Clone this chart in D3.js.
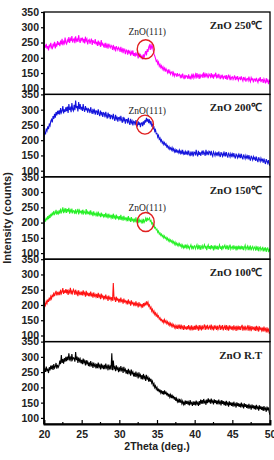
<!DOCTYPE html>
<html>
<head>
<meta charset="utf-8">
<script src="https://cdn.jsdelivr.net/npm/d3@7"></script>
<style>
body { margin: 0; background: #fff; }
svg { display: block; }
</style>
</head>
<body>
<svg></svg>
<script>
// 2theta grid, one reading every 0.1 deg (rows below = one degree each)
var theta = d3.range(20, 50.0001, 0.1);

var zno250 = [
  228,241,233,246,230,238,224,243,236,249,
  235,228,246,239,252,231,244,237,255,242,
  250,238,256,244,262,241,253,247,266,249,
  245,258,251,268,249,262,255,271,250,259,
  263,248,270,255,261,252,274,258,249,265,
  258,266,250,262,247,269,255,261,244,257,
  260,246,255,263,242,258,250,248,261,244,
  252,239,256,244,249,236,258,242,247,238,
  244,232,249,236,242,230,246,238,233,241,
  237,226,242,229,236,221,238,231,225,234,
  230,219,236,222,228,215,231,224,212,226,
  223,210,226,216,221,207,219,213,224,206,
  215,204,218,209,212,198,216,205,210,200,
  206,195,211,200,214,222,208,228,219,235,
  241,226,246,232,238,224,212,206,198,188,
  192,180,186,172,178,168,174,163,170,160,
  166,155,164,158,151,162,149,157,146,152,
  154,143,151,140,148,146,138,150,141,144,
  146,136,142,133,148,138,130,144,135,141,
  140,131,146,134,138,129,143,136,148,133,
  139,146,132,150,138,143,131,147,136,141,
  145,134,152,139,146,136,149,141,133,147,
  143,137,150,135,146,132,144,140,151,136,
  142,133,147,138,130,144,136,141,129,139,
  140,131,143,128,137,145,132,139,127,136,
  138,129,135,142,127,136,131,140,126,133,
  136,127,139,130,124,137,129,134,122,131,
  132,125,138,127,121,135,128,131,119,130,
  130,122,134,126,119,132,124,137,120,128,
  129,118,131,124,116,133,122,127,114,126,
  121];

var zno200 = [
  212,226,219,238,231,245,236,252,247,262,
  268,258,279,270,286,274,292,281,296,285,
  298,284,305,290,296,312,288,301,293,308,
  295,310,289,318,299,306,292,322,301,296,
  316,298,330,305,312,294,325,302,318,300,
  309,296,318,301,293,312,298,306,290,303,
  300,289,308,294,286,303,291,298,284,296,
  295,283,301,287,279,297,285,292,276,290,
  288,275,293,280,271,290,278,285,269,282,
  280,268,286,272,263,283,270,277,261,274,
  275,262,280,266,257,276,264,270,254,268,
  268,255,273,259,250,270,257,263,248,262,
  260,249,266,252,245,262,250,258,243,255,
  257,246,262,251,266,258,273,261,270,256,
  268,255,262,247,251,238,242,229,234,221,
  222,210,216,203,207,196,201,190,195,186,
  192,184,188,178,182,173,179,170,175,168,
  176,166,172,162,169,159,170,161,165,158,
  167,157,164,154,168,155,161,152,163,156,
  162,151,166,155,148,163,153,159,147,161,
  160,150,168,154,147,165,152,161,149,158,
  166,152,163,157,149,168,155,160,151,164,
  161,150,165,153,147,162,156,149,159,152,
  160,148,163,152,145,161,154,147,158,150,
  158,147,161,150,143,159,152,145,156,148,
  155,144,158,147,140,156,149,142,153,145,
  152,141,155,144,137,153,146,139,150,142,
  148,137,151,140,133,149,142,135,146,138,
  143,132,146,135,128,144,137,130,141,133,
  137,126,140,129,122,138,131,124,135,121,
  116];

var zno150 = [
  198,212,203,216,208,221,211,225,215,229,
  220,233,224,238,227,231,242,226,235,229,
  240,229,246,233,238,250,231,243,236,247,
  232,244,236,248,229,241,235,246,230,239,
  238,228,243,231,236,245,227,240,233,237,
  231,242,226,238,233,229,244,227,236,230,
  235,224,240,228,232,221,237,226,230,223,
  231,220,236,224,228,218,233,222,226,219,
  228,217,232,220,225,214,229,219,223,215,
  225,213,229,216,221,210,226,215,219,212,
  221,209,225,212,217,206,222,211,215,208,
  217,205,221,208,213,202,218,207,211,204,
  213,201,217,204,209,198,214,203,207,200,
  208,197,212,201,206,214,203,216,208,211,
  215,204,207,196,199,188,192,182,184,176,
  178,168,172,162,166,158,162,154,158,150,
  156,148,152,144,149,140,146,138,143,136,
  141,133,138,129,136,127,133,125,131,124,
  131,123,128,119,126,117,124,116,128,118,
  126,117,123,114,121,127,116,124,112,122,
  124,114,121,127,112,123,116,126,111,120,
  125,113,122,128,115,124,110,121,127,114,
  123,112,126,117,121,109,125,115,122,113,
  124,111,120,127,114,122,110,125,116,121,
  126,113,122,115,125,111,120,128,113,119,
  122,111,125,116,120,109,124,114,121,112,
  124,112,121,115,123,110,119,126,112,118,
  123,110,120,114,125,109,118,122,111,117,
  121,108,119,112,122,106,117,120,109,114,
  118,106,116,110,119,104,114,117,103,112,
  106];

var zno100 = [
  195,206,199,212,205,218,210,224,214,228,
  221,234,226,241,229,237,246,231,240,235,
  244,232,250,237,243,255,236,248,240,252,
  238,250,233,247,241,256,235,245,238,251,
  246,233,250,237,243,229,248,236,241,232,
  244,231,248,235,240,227,246,233,238,229,
  240,228,244,231,236,224,241,229,234,226,
  236,223,240,227,232,219,237,225,230,221,
  230,218,234,222,226,213,231,220,224,216,
  226,214,272,219,223,210,227,216,220,212,
  220,208,224,212,216,204,221,210,214,206,
  214,202,218,206,210,198,215,204,208,200,
  208,196,212,200,204,192,209,198,202,194,
  203,191,206,195,208,199,212,202,209,196,
  200,188,193,180,186,174,180,169,174,162,
  170,160,164,154,158,150,153,145,150,142,
  152,143,148,139,145,136,142,133,140,131,
  138,129,135,126,133,124,131,122,136,125,
  132,121,136,124,129,118,134,123,127,119,
  131,120,134,122,128,117,133,121,127,118,
  132,119,135,123,128,116,134,122,129,117,
  133,120,128,136,118,130,124,135,119,127,
  131,119,136,122,128,117,133,124,130,118,
  132,120,127,135,118,129,123,134,117,126,
  131,118,134,121,128,116,133,123,129,119,
  130,117,133,122,127,115,132,121,128,118,
  131,118,128,135,116,127,121,132,117,125,
  130,116,133,120,127,114,131,122,126,117,
  129,115,132,119,126,113,130,120,124,116,
  126,113,129,117,122,110,127,114,120,108,
  110];

var znoRT = [
  246,262,251,268,255,259,247,266,256,271,
  260,272,257,276,263,268,280,261,274,266,
  272,288,276,306,280,293,278,296,284,300,
  286,301,289,312,292,298,285,309,291,297,
  296,284,316,289,301,280,298,286,293,279,
  290,276,294,281,287,272,289,278,284,270,
  282,268,286,272,278,264,281,270,275,262,
  277,263,281,267,273,259,278,265,271,260,
  274,260,278,264,270,256,275,262,268,258,
  312,256,288,262,267,253,272,259,264,250,
  266,252,270,256,262,247,267,254,259,245,
  257,243,261,247,253,238,258,245,250,236,
  248,234,252,238,244,229,249,236,241,227,
  240,226,244,230,236,221,241,228,233,219,
  232,219,228,214,220,206,212,199,205,194,
  200,188,196,184,193,182,190,178,188,176,
  190,178,186,174,182,170,179,168,176,165,
  176,164,172,160,168,156,164,153,160,150,
  162,150,158,147,155,144,152,142,157,146,
  156,144,152,141,158,146,150,139,154,143,
  153,141,157,145,150,139,155,143,160,147,
  158,146,162,150,155,143,160,148,164,151,
  160,147,163,151,156,144,161,149,158,145,
  157,144,160,148,153,141,158,146,155,142,
  153,140,156,144,149,137,154,142,151,139,
  150,137,153,141,146,134,151,139,148,136,
  147,134,150,138,143,131,148,136,145,133,
  143,130,146,134,139,127,144,132,141,129,
  140,127,143,131,136,124,141,129,138,126,
  136,123,139,127,132,120,137,125,134,118,
  110];

var seriesNames = ["ZnO 250\u2103", "ZnO 200\u2103", "ZnO 150\u2103", "ZnO 100\u2103", "ZnO R.T"];
var seriesData = [zno250, zno200, zno150, zno100, znoRT];
var seriesColors = ["#ff00ff", "#1414dc", "#28f028", "#ff1414", "#000000"];

// ZnO(111) peak marks (only on the three hottest samples)
var peakName = "ZnO(111)";
var peakTheta = [33.5, 33.4, 33.5];
var peakValue = [228, 251, 202];
var peakTextValue = [274, 287, 238];

var yTicks = [100, 150, 200, 250, 300, 350];
var xTicks = [20, 25, 30, 35, 40, 45, 50];

var W = 274, H = 460;
var padL = 44, padR = 270, padT = 12, padB = 424;
var nP = seriesData.length;
var ph = (padB - padT) / nP;

var svg = d3.select("svg").attr("width", W).attr("height", H);

var x = d3.scaleLinear().domain([20, 50]).range([padL, padR]);

seriesData.forEach(function(vals, i) {
    var pTop = padT + ph * i;
    var y = d3.scaleLinear().domain([80, 350]).range([pTop + ph, pTop]);

    var g = svg.append("g");

    g.append("clipPath").attr("id", "clip" + i)
        .append("rect")
        .attr("x", padL).attr("y", pTop)
        .attr("width", padR - padL).attr("height", ph);

    var line = d3.line()
        .x(function(d, k) { return x(theta[k]); })
        .y(function(d) { return y(d); });

    g.append("path")
        .datum(vals)
        .attr("clip-path", "url(#clip" + i + ")")
        .attr("d", line)
        .attr("fill", "none")
        .attr("stroke", seriesColors[i])
        .attr("stroke-width", 1.1);

    // y axis
    var ax = g.append("g")
        .attr("transform", "translate(" + padL + ",0)")
        .call(d3.axisLeft(y).tickValues(yTicks).tickSize(3).tickPadding(2));
    ax.select(".domain").remove();
    ax.selectAll("line").attr("stroke", "#000").attr("stroke-width", 1.2);
    ax.selectAll("text")
        .attr("font-family", "Liberation Sans, Arial, sans-serif")
        .attr("font-weight", "bold")
        .attr("font-size", "10.5px")
        .attr("fill", "#222");

    // panel frame
    g.append("rect")
        .attr("x", padL).attr("y", pTop)
        .attr("width", padR - padL).attr("height", ph)
        .attr("fill", "none")
        .attr("stroke", "#000")
        .attr("stroke-width", 1.3);

    g.append("text")
        .attr("x", padR - 8).attr("y", pTop + 17)
        .attr("text-anchor", "end")
        .attr("font-family", "Liberation Serif, Times New Roman, serif")
        .attr("font-weight", "bold")
        .attr("font-size", "11px")
        .attr("fill", "#222")
        .text(seriesNames[i]);

    if (i < peakTheta.length) {
        g.append("ellipse")
            .attr("cx", x(peakTheta[i])).attr("cy", y(peakValue[i]))
            .attr("rx", 8.5).attr("ry", 9.5)
            .attr("fill", "none")
            .attr("stroke", "#e02020")
            .attr("stroke-width", 1.4);
        g.append("text")
            .attr("x", x(33.7)).attr("y", y(peakTextValue[i]))
            .attr("text-anchor", "middle")
            .attr("font-family", "Liberation Serif, Times New Roman, serif")
            .attr("font-size", "9.5px")
            .attr("fill", "#222")
            .text(peakName);
    }
});

// left axis line a bit heavier
svg.append("line")
    .attr("x1", padL).attr("x2", padL).attr("y1", padT).attr("y2", padB)
    .attr("stroke", "#000").attr("stroke-width", 1.6);

var xa = svg.append("g")
    .attr("transform", "translate(0," + padB + ")")
    .call(d3.axisBottom(x).tickValues(xTicks).tickSize(-4).tickPadding(7));
xa.select(".domain").attr("stroke-width", 1.8);
xa.selectAll("line").attr("stroke", "#000").attr("stroke-width", 1.2);
xa.selectAll("text")
    .attr("font-family", "Liberation Sans, Arial, sans-serif")
    .attr("font-weight", "bold")
    .attr("font-size", "10.5px")
    .attr("fill", "#222");

// minor ticks between the labelled ones
svg.append("g").selectAll("line")
    .data(d3.range(22.5, 50, 5))
    .enter().append("line")
    .attr("x1", function(d) { return x(d); })
    .attr("x2", function(d) { return x(d); })
    .attr("y1", padB).attr("y2", padB - 2)
    .attr("stroke", "#000").attr("stroke-width", 1.2);

svg.append("text")
    .attr("x", (padL + padR) / 2).attr("y", 450)
    .attr("text-anchor", "middle")
    .attr("font-family", "Liberation Sans, Arial, sans-serif")
    .attr("font-weight", "bold")
    .attr("font-size", "10.5px")
    .attr("fill", "#222")
    .text("2Theta (deg.)");

svg.append("text")
    .attr("transform", "translate(11," + ((padT + padB) / 2) + ") rotate(-90)")
    .attr("text-anchor", "middle")
    .attr("font-family", "Liberation Sans, Arial, sans-serif")
    .attr("font-weight", "bold")
    .attr("font-size", "11px")
    .attr("fill", "#222")
    .text("Intensity (counts)");
</script>
</body>
</html>
